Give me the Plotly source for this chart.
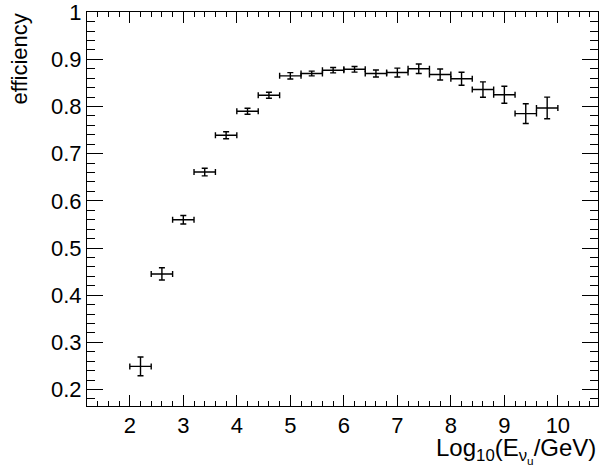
import plotly.graph_objects as go

# Bin centres (log10 E / GeV) and efficiency values
log_e = [2.2, 2.6, 3.0, 3.4, 3.8, 4.2, 4.6, 5.0, 5.4, 5.8, 6.2, 6.6,
         7.0, 7.4, 7.8, 8.2, 8.6, 9.0, 9.4, 9.8]
efficiency = [0.249, 0.445, 0.560, 0.661, 0.739, 0.790, 0.824, 0.865,
              0.870, 0.877, 0.879, 0.870, 0.872, 0.880, 0.868, 0.859,
              0.836, 0.825, 0.785, 0.797]
eff_err = [0.020, 0.013, 0.009, 0.008, 0.0074, 0.0064, 0.0064, 0.0068,
           0.005, 0.0057, 0.006, 0.0074, 0.0095, 0.010, 0.0117, 0.0138,
           0.0163, 0.018, 0.021, 0.023]
bin_half_width = [0.2] * len(log_e)

x_ticks = [2, 3, 4, 5, 6, 7, 8, 9, 10]
x_tick_text = ["2", "3", "4", "5", "6", "7", "8", "9", "10"]
y_ticks = [0.2, 0.3, 0.4, 0.5, 0.6, 0.7, 0.8, 0.9, 1.0]
y_tick_text = ["0.2", "0.3", "0.4", "0.5", "0.6", "0.7", "0.8", "0.9", "1"]

FONT = "Liberation Sans, Arial, Helvetica, sans-serif"

fig = go.Figure()
fig.add_trace(go.Scatter(
    x=log_e, y=efficiency, mode="markers",
    marker=dict(size=1, color="black", opacity=0),
    error_x=dict(type="data", array=bin_half_width, symmetric=True,
                 color="black", thickness=1.4, width=3),
    error_y=dict(type="data", array=eff_err, symmetric=True,
                 color="black", thickness=1.4, width=3),
    showlegend=False, hoverinfo="x+y",
))

axis_common = dict(
    showline=True, linecolor="black", linewidth=1, mirror="ticks",
    ticks="inside", tickcolor="black", tickwidth=1,
    showgrid=False, zeroline=False, automargin=False,
    ticklabeloverflow="allow",
    tickfont=dict(family=FONT, size=22, color="black"),
)

fig.update_xaxes(
    range=[1.2, 10.75], tickmode="array", tickvals=x_ticks, ticktext=x_tick_text,
    ticklen=11,
    minor=dict(dtick=0.2, tick0=0, ticklen=5, ticks="inside", tickcolor="black",
               tickwidth=1, showgrid=False),
    **axis_common,
)
fig.update_yaxes(
    range=[0.165, 1.0004], tickmode="array", tickvals=y_ticks, ticktext=y_tick_text,
    ticklen=16,
    minor=dict(dtick=0.02, tick0=0, ticklen=8, ticks="inside", tickcolor="black",
               tickwidth=1, showgrid=False),
    **axis_common,
)

fig.add_annotation(
    text="Log<sub>10</sub>(E<sub>ν<sub>u</sub></sub>/GeV)",
    xref="paper", yref="paper", x=1.0, y=-0.065,
    xanchor="right", yanchor="top", showarrow=False,
    font=dict(family=FONT, size=24, color="black"),
)
fig.add_annotation(
    text="efficiency", textangle=-90,
    xref="paper", yref="paper", x=-0.133, y=1.0,
    xanchor="center", yanchor="top", showarrow=False,
    font=dict(family=FONT, size=22, color="black"),
)

fig.update_layout(
    width=600, height=474,
    margin=dict(l=87, r=2, t=12, b=68),
    paper_bgcolor="white", plot_bgcolor="white",
)

fig.write_html("out.html", config={"displayModeBar": False},
               post_script="document.body.style.margin='0';document.body.style.padding='0';")
